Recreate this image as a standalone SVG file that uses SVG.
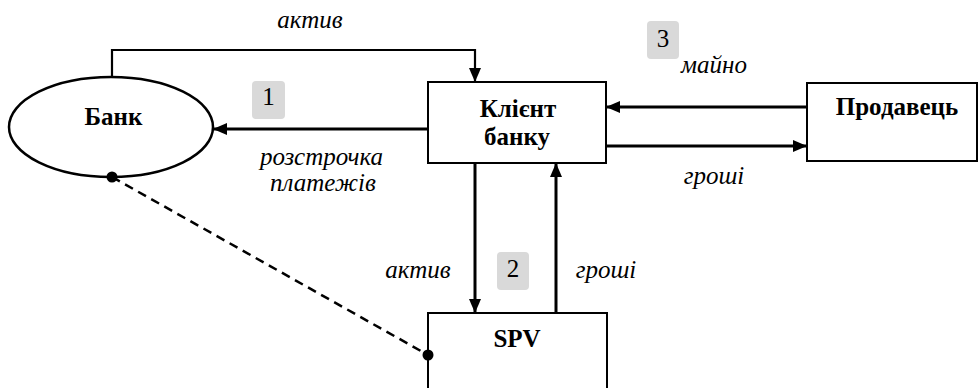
<svg xmlns="http://www.w3.org/2000/svg" width="979" height="388" viewBox="0 0 979 388">
<style>
.box{fill:#fff;stroke:#000;stroke-width:2}
text{font-family:'Liberation Serif','Times New Roman','DejaVu Serif',serif;fill:#000;text-anchor:middle}
.lbl{font-weight:bold;font-size:25px}
.it{font-style:italic;font-size:25px}
.num{font-size:25px}
.tag{fill:#d9d9d9}
.arr{fill:none;stroke:#000;stroke-width:3;marker-end:url(#ah)}
</style>
<defs>
<marker id="ah" markerUnits="userSpaceOnUse" markerWidth="14" markerHeight="12" refX="14" refY="6" orient="auto">
<path d="M0,0 L14,6 L0,12 z" fill="#000"/>
</marker>
</defs>
<rect width="979" height="388" fill="#fff"/>
<g id="bank">
<ellipse cx="111" cy="127" rx="102" ry="50" fill="#fff" stroke="#000" stroke-width="2.5"/>
<text class="lbl" x="113.5" y="125">Банк</text>
</g>
<g id="client">
<rect class="box" x="428" y="82" width="178" height="81"/>
<text class="lbl" x="518" y="117">Клієнт</text>
<text class="lbl" x="517" y="145">банку</text>
</g>
<g id="seller">
<rect class="box" x="807" y="83" width="170" height="78"/>
<text class="lbl" x="897" y="115">Продавець</text>
</g>
<g id="spv">
<rect class="box" x="428" y="313" width="179" height="90"/>
<text class="lbl" x="517" y="347">SPV</text>
</g>
<g id="connectors">
<path d="M112,77 V50 H475 V82" fill="none" stroke="#000" stroke-width="2.2" marker-end="url(#ah)"/>
<line class="arr" x1="428" y1="129" x2="213" y2="129"/>
<line class="arr" x1="807" y1="107" x2="606" y2="107"/>
<line class="arr" x1="606" y1="146" x2="807" y2="146"/>
<line class="arr" x1="475" y1="163" x2="475" y2="313"/>
<line class="arr" x1="556" y1="313" x2="556" y2="163"/>
<line x1="112" y1="177" x2="428" y2="355" stroke="#000" stroke-width="2.5" stroke-dasharray="9,6"/>
<circle cx="112" cy="177" r="5.5" fill="#000"/>
<circle cx="428" cy="355" r="5.5" fill="#000"/>
</g>
<g id="labels">
<text class="it" x="310" y="28">актив</text>
<rect class="tag" x="252" y="81" width="33" height="38" rx="4"/>
<text class="num" x="268.5" y="105">1</text>
<text class="it" x="321.5" y="165">розстрочка</text>
<text class="it" x="323" y="191">платежів</text>
<rect class="tag" x="647" y="21" width="32" height="38" rx="4"/>
<text class="num" x="663" y="47">3</text>
<text class="it" x="714" y="73">майно</text>
<text class="it" x="714" y="184">гроші</text>
<rect class="tag" x="497" y="252" width="32" height="38" rx="4"/>
<text class="num" x="513" y="277">2</text>
<text class="it" x="418" y="278">актив</text>
<text class="it" x="606" y="278">гроші</text>
</g>
</svg>
